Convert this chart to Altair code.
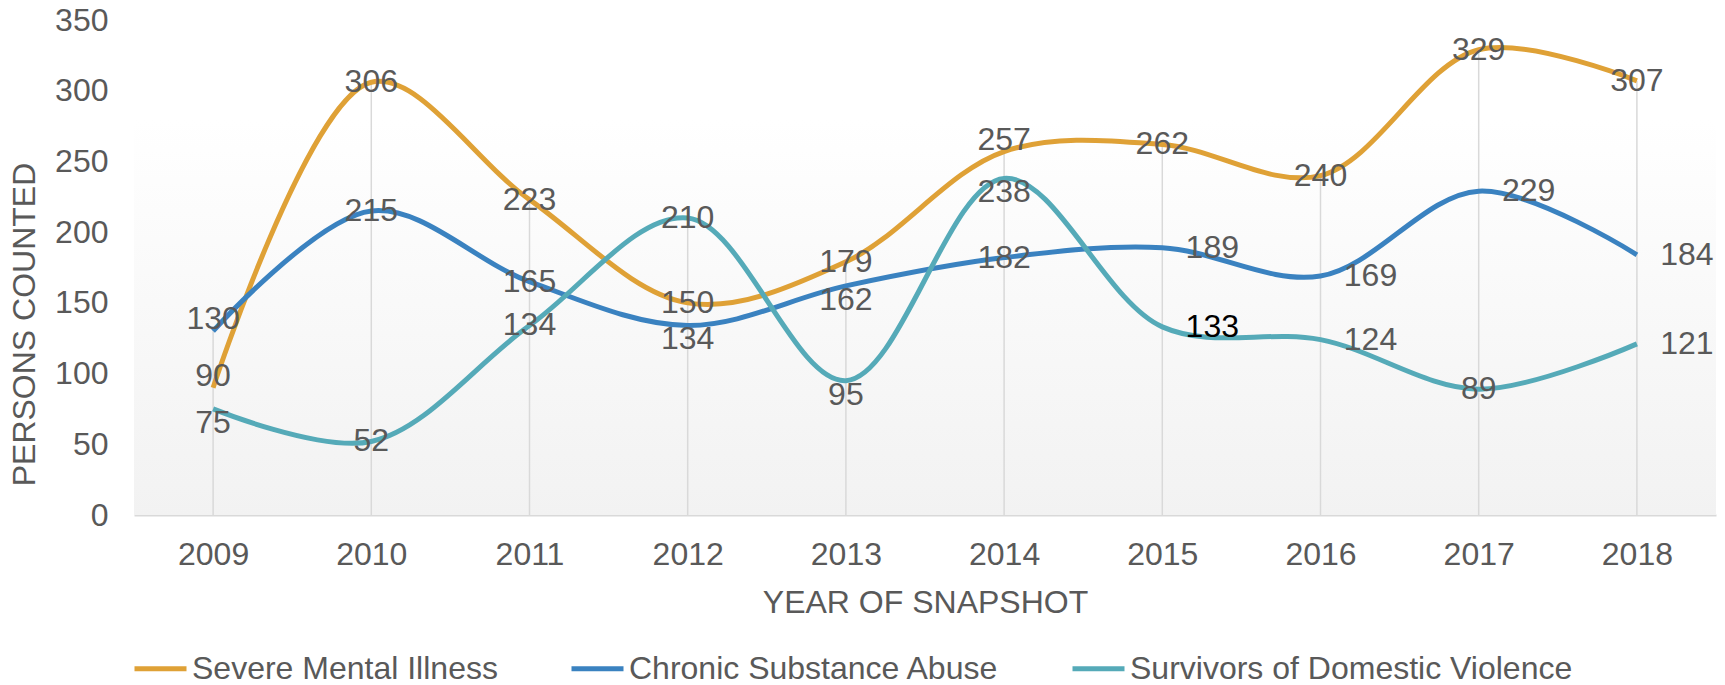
import altair as alt
import pandas as pd

years = [2009, 2010, 2011, 2012, 2013, 2014, 2015, 2016, 2017, 2018]
series_names = ["Severe Mental Illness", "Chronic Substance Abuse", "Survivors of Domestic Violence"]
severe = [90, 306, 223, 150, 179, 257, 262, 240, 329, 307]
chronic = [130, 215, 165, 134, 162, 182, 189, 169, 229, 184]
survivors = [75, 52, 134, 210, 95, 238, 133, 124, 89, 121]

# data label placement (Excel-style label position per point)
severe_pos = ["above", "center", "center", "center", "center", "above", "center", "center", "center", "center"]
chronic_pos = ["above", "center", "center", "below", "below", "center", "right", "right", "right", "right"]
survivors_pos = ["below", "center", "center", "center", "below", "below", "right", "right", "center", "right"]

colors = ["#DFA136", "#3A82C0", "#55AAB8"]

rows = []
for k, (name, vals, pos) in enumerate(zip(series_names, [severe, chronic, survivors],
                                           [severe_pos, chronic_pos, survivors_pos])):
    for y, v, p in zip(years, vals, pos):
        rows.append({"year": y, "series": name, "value": v, "pos": p, "order": k})
df = pd.DataFrame(rows)

W, H = 1582, 495
FONT = "Liberation Sans"
GRAY = "#595959"
FS = 32

xaxis = alt.Axis(title="YEAR OF SNAPSHOT", labelAngle=0, ticks=False,
                 domainColor="#d9d9d9", domainWidth=2,
                 labelPadding=24, labelFontSize=FS, labelColor=GRAY,
                 titleFontSize=32, titleColor=GRAY, titleFontWeight="normal",
                 titleBaseline="alphabetic", titleY=97)
yaxis = alt.Axis(title="PERSONS COUNTED", values=[0, 50, 100, 150, 200, 250, 300, 350],
                 grid=False, ticks=False, domain=False, labelPadding=26,
                 labelFontSize=FS, labelColor=GRAY,
                 titleFontSize=32, titleColor=GRAY, titleFontWeight="normal",
                 titleBaseline="alphabetic", titleX=-100, titleY=304)
xscale = alt.Scale(type="point", padding=0.5)
yscale = alt.Scale(domain=[0, 350], nice=False)
xenc = alt.X("year:O", scale=xscale, axis=xaxis)
yenc = alt.Y("value:Q", scale=yscale, axis=yaxis)

bg = alt.Chart(pd.DataFrame({"a": [0]})).mark_rect(
    color=alt.Gradient(gradient="linear", x1=0, x2=0, y1=0, y2=1,
                       stops=[alt.GradientStop(color="#ffffff", offset=0.2),
                              alt.GradientStop(color="#f2f2f2", offset=1)])
).encode(x=alt.value(0), x2=alt.value(W), y=alt.value(0), y2=alt.value(H))

base = alt.Chart(df)

drops = base.transform_aggregate(maxv="max(value)", groupby=["year"]).mark_rule(
    color="#d9d9d9", strokeWidth=1.5
).encode(x=xenc, y=alt.Y("maxv:Q", scale=yscale, axis=yaxis), y2=alt.datum(0))

lines = base.mark_line(interpolate="catmull-rom", strokeWidth=5).encode(
    x=xenc, y=yenc,
    color=alt.Color("series:N", scale=alt.Scale(domain=series_names, range=colors),
                    legend=alt.Legend(title=None, orient="none", legendX=-2, legendY=620,
                                      direction="horizontal", symbolType="stroke",
                                      symbolSize=2704, symbolStrokeWidth=5,
                                      labelFontSize=FS, labelColor=GRAY, labelOffset=3,
                                      columnPadding=63, labelLimit=600)),
    order="order:Q",
    detail="series:N",
)

def labels(pos, dx, dy):
    return base.transform_filter(alt.datum.pos == pos).mark_text(
        font=FONT, fontSize=FS, dx=dx, dy=dy, baseline="middle", align="center"
    ).encode(
        x=xenc, y=yenc,
        text="value:Q",
        color=alt.condition((alt.datum.series == "Survivors of Domestic Violence") & (alt.datum.year == 2015),
                            alt.value("#000000"), alt.value(GRAY)),
    )

chart = alt.layer(
    bg, drops, lines,
    labels("center", 0, 0), labels("above", 0, -12), labels("below", 0, 14), labels("right", 50, 0),
).properties(
    width=W, height=H,
    autosize=alt.AutoSizeParams(type="none"),
    padding={"left": 126, "top": 12, "right": 1, "bottom": 168},
).configure(font=FONT).configure_view(stroke=None)

chart.save("out.html", embed_options={"renderer": "svg", "actions": False})
